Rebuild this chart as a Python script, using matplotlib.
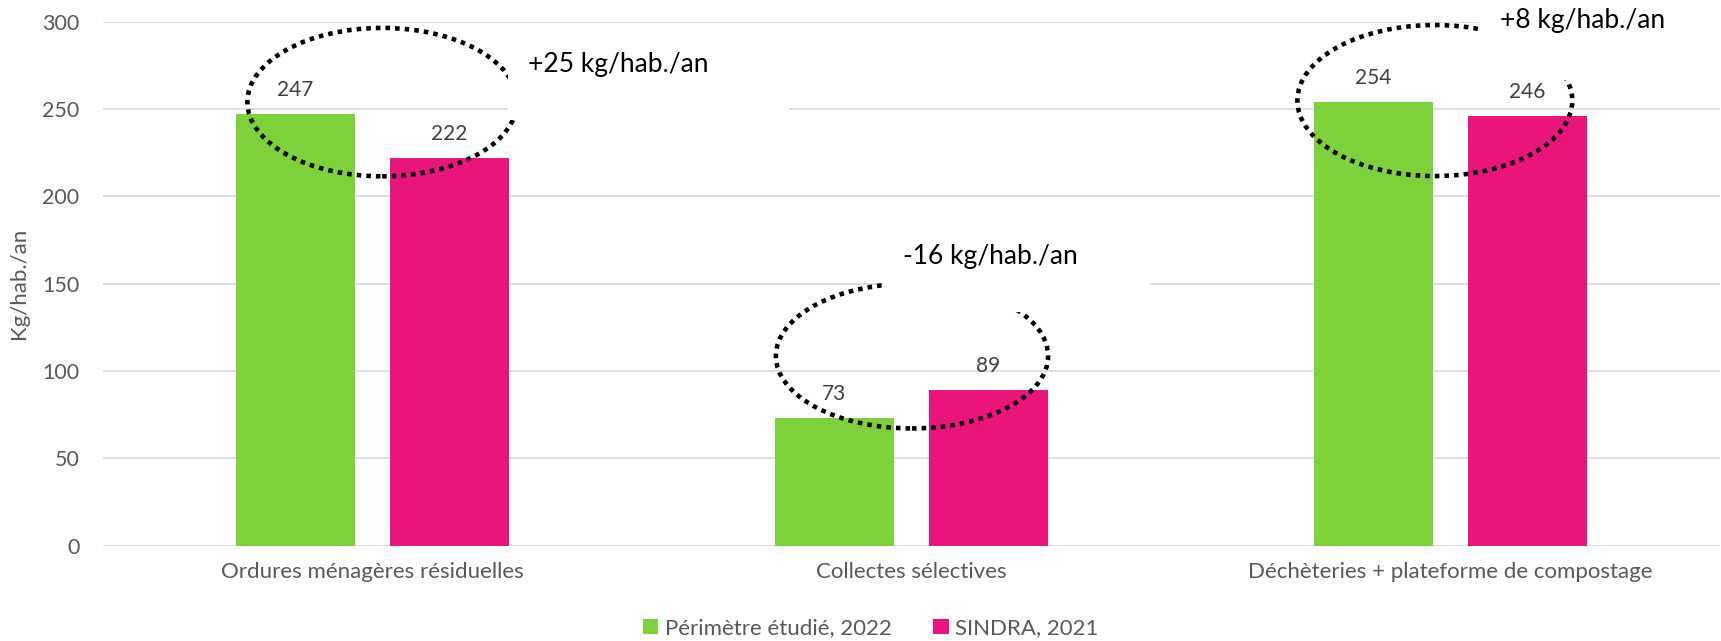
import numpy as np
import matplotlib.pyplot as plt
from matplotlib.patches import Ellipse, Rectangle

# data
categories = ['Ordures ménagères résiduelles', 'Collectes sélectives',
              'Déchèteries + plateforme de compostage']
perimetre_2022 = [247, 73, 254]
sindra_2021 = [222, 89, 246]
series_names = ['Périmètre étudié, 2022', 'SINDRA, 2021']
differences = ['+25 kg/hab./an', '-16 kg/hab./an', '+8 kg/hab./an']

plt.rcParams['font.family'] = ['Lato', 'DejaVu Sans']

green = '#7fd13b'
pink = '#e9157b'
grey_txt = '#595959'

fig = plt.figure(figsize=(17.21, 6.41), dpi=100)
ax = fig.add_axes([0.0598, 0.1488, 0.9396, 0.8172])

x = np.arange(len(categories))
bar_width = 0.22
offset = 0.143

b1 = ax.bar(x - offset, perimetre_2022, bar_width, color=green, label=series_names[0], zorder=2)
b2 = ax.bar(x + offset, sindra_2021, bar_width, color=pink, label=series_names[1], zorder=2)
ax.bar_label(b1, padding=10, fontsize=15, color='#404040')
ax.bar_label(b2, padding=10, fontsize=15, color='#404040')

ax.set_xlim(-0.5, 2.5)
ax.set_ylim(0, 300)
ax.set_yticks(range(0, 301, 50))
ax.set_xticks(x, categories)
ax.yaxis.grid(True, color='#d9d9d9', lw=1.2)
ax.set_axisbelow(True)
for s in ax.spines.values():
    s.set_visible(False)
ax.tick_params(axis='both', length=0, labelsize=15.5, labelcolor=grey_txt)
ax.tick_params(axis='x', labelsize=16, pad=12)
ax.tick_params(axis='y', pad=17)
ax.set_ylabel('Kg/hab./an', fontsize=16, color=grey_txt)
ax.yaxis.set_label_coords(-0.046, 0.5)

# dotted ellipses around each pair (center x, center y, width, height)
ell_pos = [(0.018, 254, 0.50, 85), (1.001, 108.6, 0.505, 83), (1.971, 254.9, 0.51, 86.5)]
for cx, cy, w, h in ell_pos:
    e = Ellipse((cx, cy), w, h, fill=False, edgecolor='black', lw=3.3,
                linestyle=(0, (1, 1.1)), zorder=4, clip_on=False)
    e.set_capstyle('butt')
    ax.add_patch(e)

# white text boxes with the difference labels
box_pos = [(0.251, 243.8, 0.522, 48.6), (0.947, 133.7, 0.495, 50), (2.051, 266.6, 0.46, 46)]
txt_pos = [(0.289, 275.8), (0.984, 165.3), (2.092, 301)]
for (bx, by, bw, bh), (tx, ty), t in zip(box_pos, txt_pos, differences):
    ax.add_patch(Rectangle((bx, by), bw, bh, facecolor='white', edgecolor='none',
                           zorder=5, clip_on=False))
    ax.text(tx, ty, t, fontsize=19, color='black', ha='left', va='center', zorder=6)

fig.legend(loc='center', bbox_to_anchor=(0.506, 0.02), ncol=2, frameon=False,
           fontsize=16, handlelength=0.7, handleheight=0.7, handletextpad=0.3,
           columnspacing=1.85, labelcolor=grey_txt)

fig.savefig('out.png', dpi=100)
